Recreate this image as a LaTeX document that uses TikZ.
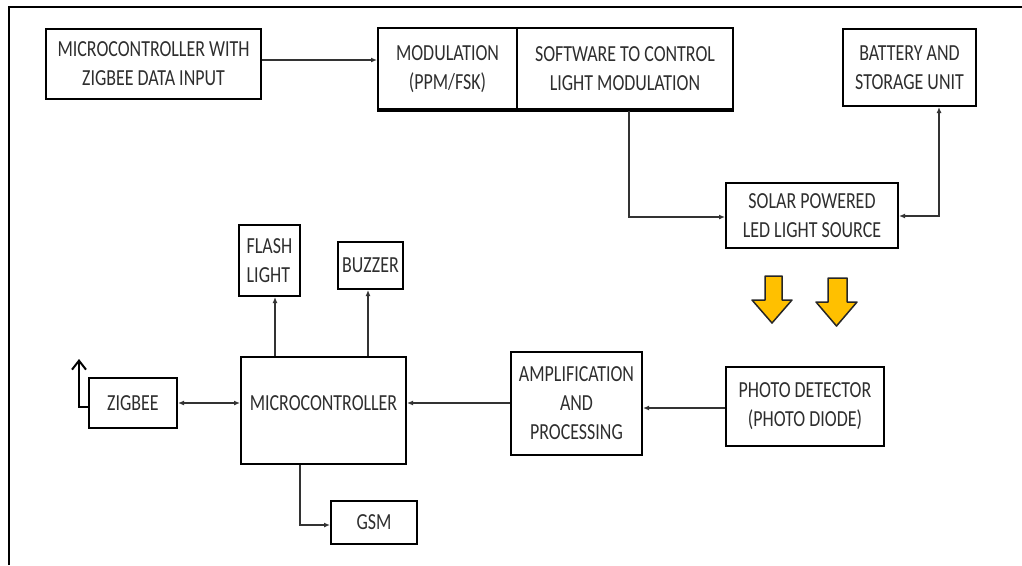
\documentclass[tikz,border=0pt]{standalone}
\usepackage{fontspec}
\setmainfont{Carlito}[FakeStretch=0.78]
\usetikzlibrary{arrows.meta,calc}
\definecolor{txt}{HTML}{2E2E2E}
\definecolor{ln}{HTML}{333333}
\definecolor{gold}{HTML}{FFC000}
\tikzset{
  blk/.style={draw=black, line width=2pt, rectangle, inner sep=0pt, align=center, text=txt,
              font=\fontsize{23}{29}\selectfont},
  lbl/.style={inner sep=0pt, align=center, text=txt, font=\fontsize{23}{29}\selectfont},
  arr/.style={draw=ln, line width=1.3pt, -{Latex[length=6pt,width=5pt]}},
  darr/.style={draw=ln, line width=1.3pt, {Latex[length=6pt,width=5pt]}-{Latex[length=6pt,width=5pt]}},
  antarr/.style={draw=black, line width=2pt, -{Straight Barb[length=9pt,width=14pt,line width=2pt]}},
  ylw/.style={fill=gold, draw=black!85, line width=1.5pt, line join=round}
}
\begin{document}
\begin{tikzpicture}[x=1pt,y=-1pt]
\useasboundingbox (0,0) rectangle (1022,565);
% outer frame (top and left only)
\draw[line width=2.5pt] (9,565) -- (9,7) -- (1022,7);

% top row
\node[blk, minimum width=215pt, minimum height=70pt] (mcz) at (153.5,64) {MICROCONTROLLER WITH\\ZIGBEE DATA INPUT};
\node[blk, minimum width=139pt, minimum height=82pt] (mod) at (447.5,69) {MODULATION\\(PPM/FSK)};
\node[blk, minimum width=216pt, minimum height=82pt] (sw) at (625,69) {SOFTWARE TO CONTROL\\LIGHT MODULATION};
\draw[line width=4pt] ([yshift=1pt]mod.south west) -- ([yshift=1pt]sw.south east);
\node[blk, minimum width=133pt, minimum height=77pt] (bat) at (909.5,67.5) {BATTERY AND\\STORAGE UNIT};
\node[blk, minimum width=172pt, minimum height=65pt] (sol) at (812,215.5) {SOLAR POWERED\\LED LIGHT SOURCE};

% yellow light arrows
\draw[ylw] (765,276) -- (782,276) -- (782,300) -- (792,300) -- (772,323) -- (752,300) -- (765,300) -- cycle;
\draw[ylw] (828,278) -- (847,278) -- (847,302) -- (857,302) -- (836.5,326) -- (816,302) -- (828,302) -- cycle;

% bottom part
\node[blk, minimum width=158pt, minimum height=79pt] (pd) at (805,406.5) {PHOTO DETECTOR\\(PHOTO DIODE)};
\node[blk, minimum width=131pt, minimum height=103pt] (amp) at (576.5,403.5) {AMPLIFICATION\\AND\\PROCESSING};
\node[blk, minimum width=165pt, minimum height=107pt] (mc) at (323.5,410.5) {};
\node[lbl] (mclbl) at (323.5,403) {MICROCONTROLLER};
\node[blk, minimum width=61pt, minimum height=71pt, align=left] (fl) at (269.5,260.5) {FLASH\\LIGHT};
\node[blk, minimum width=65pt, minimum height=47pt] (bz) at (370.5,265.5) {BUZZER};
\node[blk, minimum width=88pt, minimum height=50pt] (zb) at (133,403) {ZIGBEE};
\node[blk, minimum width=86pt, minimum height=43pt] (gsm) at (374,522.5) {GSM};
\coordinate (ant) at (79,359);

% connectors
\draw[arr] ([yshift=4pt]mcz.east) -- ([yshift=4pt]mcz.east -| mod.west);
\draw[arr] ([xshift=4pt]sw.south) |- ([yshift=-1.5pt]sol.west);
\draw[darr] ([yshift=-0.5pt]sol.east) -| ([xshift=29.5pt]bat.south);
\draw[arr] ([yshift=-1.5pt]pd.west) -- ([yshift=-1.5pt]pd.west -| amp.east);
\draw[arr] ([yshift=0.5pt]amp.west) -- ([yshift=0.5pt]amp.west -| mc.east);
\draw[darr] (zb.east) -- (zb.east -| mc.west);
\draw[arr] ([xshift=5.5pt]fl.south |- mc.north) -- ([xshift=5.5pt]fl.south);
\draw[arr] ([xshift=-2.5pt]bz.south |- mc.north) -- ([xshift=-2.5pt]bz.south);
\draw[arr] ([xshift=-23.5pt]mc.south) |- ([yshift=-2.5pt]gsm.west);
\draw[antarr] ([yshift=-4pt]zb.west) -| (ant);
\end{tikzpicture}
\end{document}
